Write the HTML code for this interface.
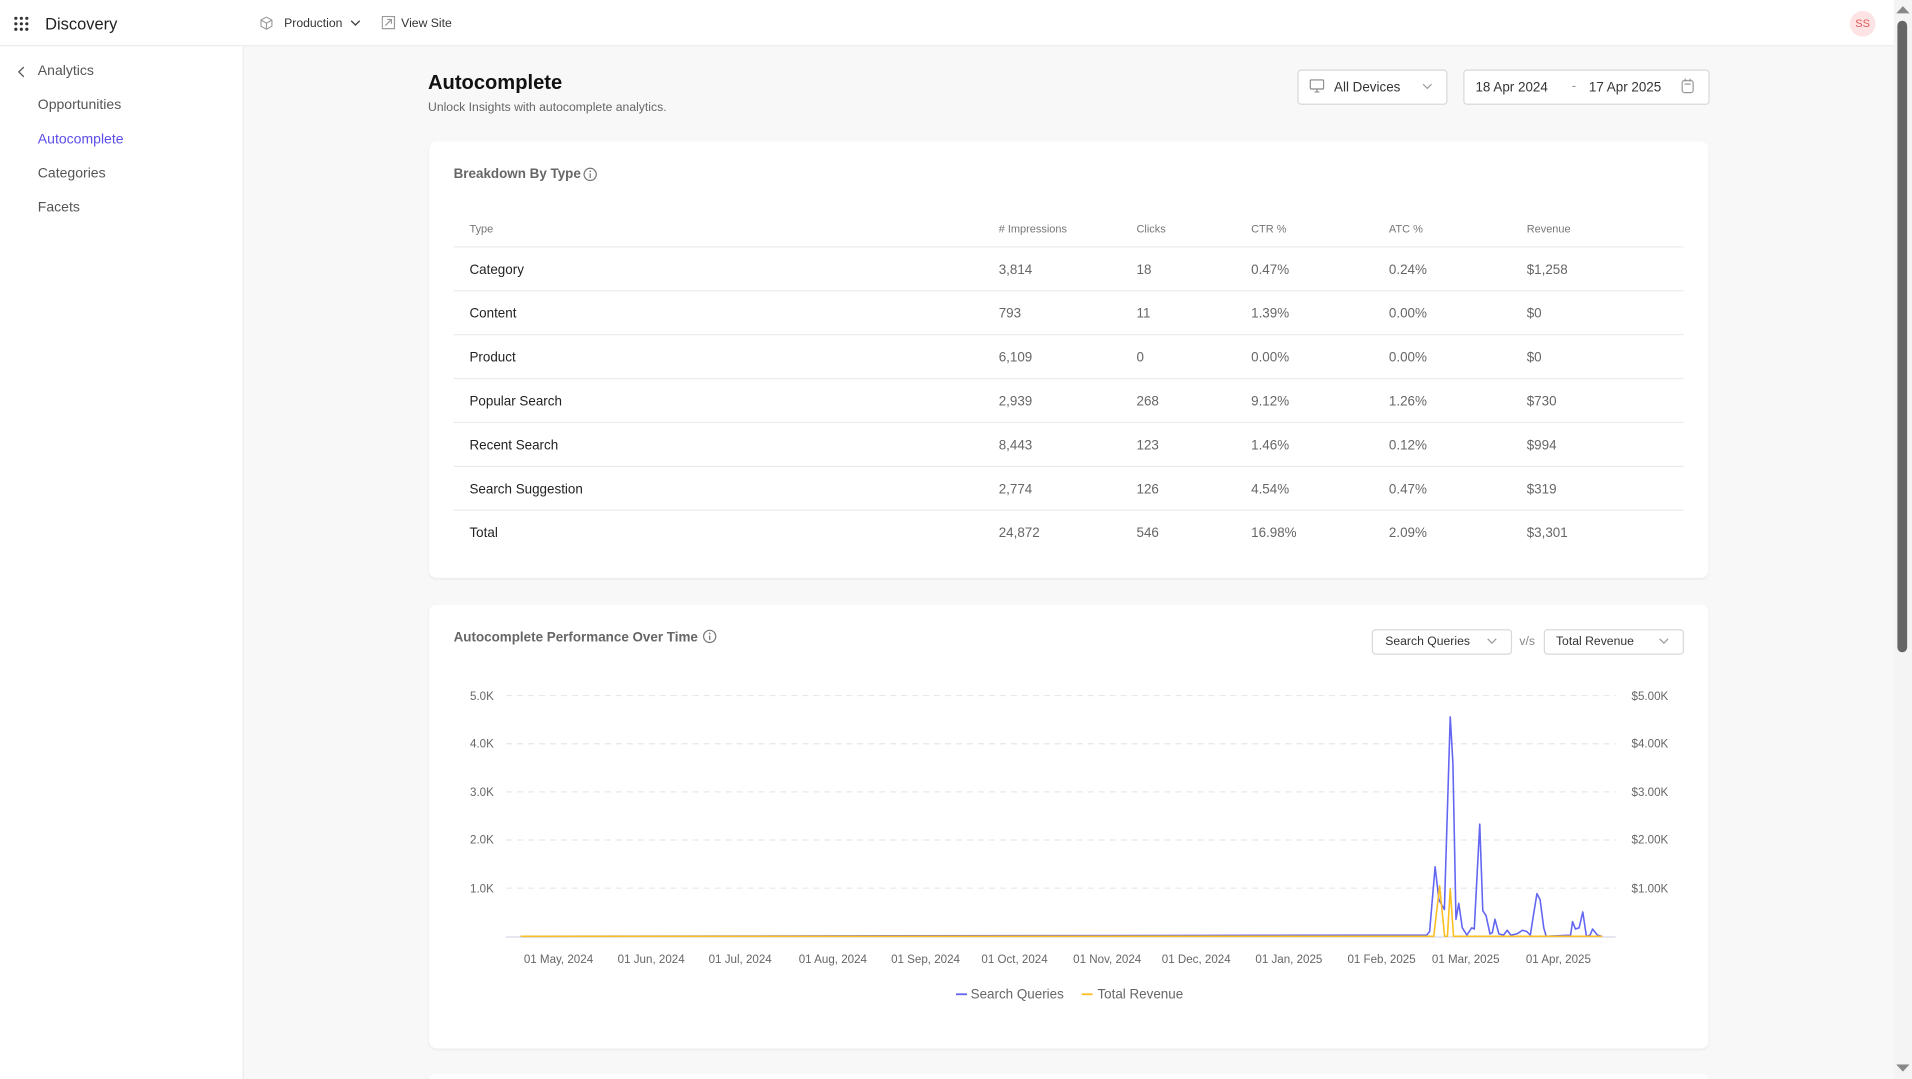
<!DOCTYPE html>
<html><head><meta charset="utf-8"><style>
html,body{margin:0;padding:0;width:1912px;height:1079px;overflow:hidden;background:#f8f8f8;font-family:"Liberation Sans",sans-serif;}
#w{position:absolute;left:0;top:0;width:1568px;height:885px;overflow:hidden;transform:scale(1.2194,1.2192);transform-origin:0 0;background:#f8f8f8;}
.a{position:absolute;white-space:nowrap;}
.side{position:absolute;left:0;top:0;width:199px;height:885px;background:#fff;border-right:1px solid #ececec;}
.top{position:absolute;left:0;top:0;width:1553px;height:37px;background:#fff;border-bottom:1px solid #ececec;}
.card{position:absolute;background:#fff;border-radius:6px;box-shadow:0 1px 2px rgba(0,0,0,.06);}
.nav{position:absolute;left:31px;font-size:11.5px;color:#555;transform:translateY(-45%);}
.box{position:absolute;border:1px solid #d9d9d9;border-radius:3px;background:#fff;}
.th{position:absolute;font-size:9px;color:#777;transform:translateY(-45%);}
.td{position:absolute;font-size:11px;color:#666;transform:translateY(-45%);}
.tl{color:#222;}
.hr{position:absolute;left:372px;width:1009px;height:1px;background:#ececec;}
</style></head><body><div id="w">
<div class="side"></div>
<div class="top"></div>
<svg class="a" style="left:11px;top:13px" width="13" height="13"><g fill="#333"><circle cx="2" cy="2" r="1.3"/><circle cx="6.5" cy="2" r="1.3"/><circle cx="11" cy="2" r="1.3"/><circle cx="2" cy="6.5" r="1.3"/><circle cx="6.5" cy="6.5" r="1.3"/><circle cx="11" cy="6.5" r="1.3"/><circle cx="2" cy="11" r="1.3"/><circle cx="6.5" cy="11" r="1.3"/><circle cx="11" cy="11" r="1.3"/></g></svg>
<div class="a" style="left:37px;top:12px;font-size:13.5px;color:#222;">Discovery</div>
<svg class="a" style="left:213px;top:13px" width="11" height="12"><path d="M5.5 1 L10 3.5 V8.5 L5.5 11 L1 8.5 V3.5Z M1 3.5 L5.5 6 L10 3.5 M5.5 6V11" fill="none" stroke="#999" stroke-width=".9"/></svg>
<div class="a" style="left:233px;top:14px;font-size:10px;color:#333;">Production</div>
<svg class="a" style="left:287px;top:16px" width="9" height="6"><path d="M1 1L4.5 4.5L8 1" fill="none" stroke="#444" stroke-width="1.1"/></svg>
<svg class="a" style="left:313px;top:13px" width="12" height="12"><rect x=".5" y=".5" width="10" height="10" fill="none" stroke="#999"/><path d="M3 8L8 3M4.5 3H8V6.5" fill="none" stroke="#999"/></svg>
<div class="a" style="left:329px;top:14px;font-size:10px;color:#333;">View Site</div>
<div class="a" style="left:1517px;top:9px;width:21px;height:21px;border-radius:50%;background:#fde3e3;color:#e45a5a;font-size:9px;text-align:center;line-height:21px;">SS</div>
<div class="a" style="left:1553px;top:0;width:15px;height:885px;background:#f4f4f4;"></div>
<div class="a" style="left:1556px;top:17px;width:8px;height:518px;border-radius:4px;background:#666;"></div>
<svg class="a" style="left:1555px;top:5px" width="11" height="7"><path d="M0 6L5.5 0L11 6Z" fill="#888"/></svg>
<svg class="a" style="left:1555px;top:873px" width="11" height="7"><path d="M0 0L5.5 6L11 0Z" fill="#888"/></svg>
<svg class="a" style="left:14px;top:54px" width="7" height="10"><path d="M5.5 1L1.5 5L5.5 9" fill="none" stroke="#555" stroke-width="1.1"/></svg>
<div class="nav" style="top:58px;">Analytics</div>
<div class="nav" style="top:86px;">Opportunities</div>
<div class="nav" style="top:114px;color:#5b4de8;">Autocomplete</div>
<div class="nav" style="top:142px;">Categories</div>
<div class="nav" style="top:170px;">Facets</div>
<div class="a" style="left:351px;top:59px;font-size:16.5px;font-weight:bold;color:#111;">Autocomplete</div>
<div class="a" style="left:351px;top:83px;font-size:10px;color:#666;">Unlock Insights with autocomplete analytics.</div>
<div class="box" style="left:1064px;top:57px;width:121px;height:27px;"></div>
<svg class="a" style="left:1074px;top:65px" width="12" height="11"><rect x=".5" y=".5" width="11" height="7.5" rx="1" fill="none" stroke="#888"/><path d="M4 10.5H8M6 8V10.5" stroke="#888"/></svg>
<div class="a" style="left:1094px;top:66px;font-size:11px;color:#333;">All Devices</div>
<svg class="a" style="left:1166px;top:68px" width="9" height="6"><path d="M1 1L4.5 4.5L8 1" fill="none" stroke="#999"/></svg>
<div class="box" style="left:1200px;top:57px;width:200px;height:27px;"></div>
<div class="a" style="left:1210px;top:66px;font-size:11px;color:#333;">18 Apr 2024</div>
<div class="a" style="left:1289px;top:65px;font-size:11px;color:#999;">-</div>
<div class="a" style="left:1303px;top:66px;font-size:11px;color:#333;">17 Apr 2025</div>
<svg class="a" style="left:1379px;top:64px" width="11" height="13"><rect x=".5" y="2" width="9" height="10" rx="2" fill="none" stroke="#999"/><path d="M3 .5V3M7 .5V3M2.5 5H7.5" stroke="#999"/></svg>
<div class="card" style="left:352px;top:116px;width:1049px;height:358px;"></div>
<div class="a" style="left:372px;top:137px;font-size:11px;font-weight:bold;color:#666;">Breakdown By Type</div>
<svg class="a" style="left:478px;top:137px" width="12" height="12"><circle cx="6" cy="6" r="5" fill="none" stroke="#777"/><path d="M6 5.2V9" stroke="#777"/><circle cx="6" cy="3.5" r=".7" fill="#777"/></svg>
<div class="th" style="left:385px;top:187px;">Type</div>
<div class="th" style="left:819px;top:187px;"># Impressions</div>
<div class="th" style="left:932px;top:187px;">Clicks</div>
<div class="th" style="left:1026px;top:187px;">CTR %</div>
<div class="th" style="left:1139px;top:187px;">ATC %</div>
<div class="th" style="left:1252px;top:187px;">Revenue</div>
<div class="hr" style="top:202px;"></div>
<div class="td tl" style="left:385px;top:221px;">Category</div><div class="td" style="left:819px;top:221px;">3,814</div><div class="td" style="left:932px;top:221px;">18</div><div class="td" style="left:1026px;top:221px;">0.47%</div><div class="td" style="left:1139px;top:221px;">0.24%</div><div class="td" style="left:1252px;top:221px;">$1,258</div>
<div class="hr" style="top:238px;"></div>
<div class="td tl" style="left:385px;top:257px;">Content</div><div class="td" style="left:819px;top:257px;">793</div><div class="td" style="left:932px;top:257px;">11</div><div class="td" style="left:1026px;top:257px;">1.39%</div><div class="td" style="left:1139px;top:257px;">0.00%</div><div class="td" style="left:1252px;top:257px;">$0</div>
<div class="hr" style="top:274px;"></div>
<div class="td tl" style="left:385px;top:293px;">Product</div><div class="td" style="left:819px;top:293px;">6,109</div><div class="td" style="left:932px;top:293px;">0</div><div class="td" style="left:1026px;top:293px;">0.00%</div><div class="td" style="left:1139px;top:293px;">0.00%</div><div class="td" style="left:1252px;top:293px;">$0</div>
<div class="hr" style="top:310px;"></div>
<div class="td tl" style="left:385px;top:329px;">Popular Search</div><div class="td" style="left:819px;top:329px;">2,939</div><div class="td" style="left:932px;top:329px;">268</div><div class="td" style="left:1026px;top:329px;">9.12%</div><div class="td" style="left:1139px;top:329px;">1.26%</div><div class="td" style="left:1252px;top:329px;">$730</div>
<div class="hr" style="top:346px;"></div>
<div class="td tl" style="left:385px;top:365px;">Recent Search</div><div class="td" style="left:819px;top:365px;">8,443</div><div class="td" style="left:932px;top:365px;">123</div><div class="td" style="left:1026px;top:365px;">1.46%</div><div class="td" style="left:1139px;top:365px;">0.12%</div><div class="td" style="left:1252px;top:365px;">$994</div>
<div class="hr" style="top:382px;"></div>
<div class="td tl" style="left:385px;top:401px;">Search Suggestion</div><div class="td" style="left:819px;top:401px;">2,774</div><div class="td" style="left:932px;top:401px;">126</div><div class="td" style="left:1026px;top:401px;">4.54%</div><div class="td" style="left:1139px;top:401px;">0.47%</div><div class="td" style="left:1252px;top:401px;">$319</div>
<div class="hr" style="top:418px;"></div>
<div class="td tl" style="left:385px;top:437px;">Total</div><div class="td" style="left:819px;top:437px;">24,872</div><div class="td" style="left:932px;top:437px;">546</div><div class="td" style="left:1026px;top:437px;">16.98%</div><div class="td" style="left:1139px;top:437px;">2.09%</div><div class="td" style="left:1252px;top:437px;">$3,301</div>
<div class="card" style="left:352px;top:496px;width:1049px;height:364px;"></div>
<div class="card" style="left:352px;top:881px;width:1049px;height:4px;border-radius:6px 6px 0 0;"></div>
<div class="a" style="left:372px;top:517px;font-size:11px;font-weight:bold;color:#666;">Autocomplete Performance Over Time</div>
<svg class="a" style="left:576px;top:516px" width="12" height="12"><circle cx="6" cy="6" r="5" fill="none" stroke="#777"/><path d="M6 5.2V9" stroke="#777"/><circle cx="6" cy="3.5" r=".7" fill="#777"/></svg>
<div class="box" style="left:1125px;top:516px;width:113px;height:19px;"></div>
<div class="a" style="left:1136px;top:521px;font-size:10px;color:#333;">Search Queries</div>
<svg class="a" style="left:1219px;top:523px" width="9" height="6"><path d="M1 1L4.5 4.5L8 1" fill="none" stroke="#999"/></svg>
<div class="a" style="left:1246px;top:521px;font-size:10px;color:#888;">v/s</div>
<div class="box" style="left:1266px;top:516px;width:113px;height:19px;"></div>
<div class="a" style="left:1276px;top:521px;font-size:10px;color:#333;">Total Revenue</div>
<svg class="a" style="left:1360px;top:523px" width="9" height="6"><path d="M1 1L4.5 4.5L8 1" fill="none" stroke="#999"/></svg>
<svg class="a" style="left:0;top:0" width="1568" height="885">
<g stroke="#e8e8e8" stroke-dasharray="5,4" stroke-width="1">
<line x1="415" y1="570.5" x2="1325" y2="570.5"/><line x1="415" y1="610" x2="1325" y2="610"/><line x1="415" y1="649.5" x2="1325" y2="649.5"/><line x1="415" y1="689" x2="1325" y2="689"/><line x1="415" y1="728.5" x2="1325" y2="728.5"/>
</g>
<line x1="415" y1="768.5" x2="1325" y2="768.5" stroke="#d8d8e8"/>
<g font-family="Liberation Sans, sans-serif" font-size="9.5" fill="#666">
<g text-anchor="end"><text x="405" y="574">5.0K</text><text x="405" y="613">4.0K</text><text x="405" y="653">3.0K</text><text x="405" y="692">2.0K</text><text x="405" y="732">1.0K</text></g>
<text x="1338" y="574">$5.00K</text><text x="1338" y="613">$4.00K</text><text x="1338" y="653">$3.00K</text><text x="1338" y="692">$2.00K</text><text x="1338" y="732">$1.00K</text>
<g text-anchor="middle"><text x="458" y="790">01 May, 2024</text><text x="534" y="790">01 Jun, 2024</text><text x="607" y="790">01 Jul, 2024</text><text x="683" y="790">01 Aug, 2024</text><text x="759" y="790">01 Sep, 2024</text><text x="832" y="790">01 Oct, 2024</text><text x="908" y="790">01 Nov, 2024</text><text x="981" y="790">01 Dec, 2024</text><text x="1057" y="790">01 Jan, 2025</text><text x="1133" y="790">01 Feb, 2025</text><text x="1202" y="790">01 Mar, 2025</text><text x="1278" y="790">01 Apr, 2025</text></g>
</g>
<polyline fill="none" stroke="#6366f1" stroke-width="1.3" stroke-linejoin="round" points="427,768 1170,767 1172.4,764 1176.9,711 1180,738 1184.5,746 1189.3,588 1191.5,626 1194,754 1196.3,741 1199.2,761 1203,767 1206.9,761 1209,762 1213.5,676 1216,747 1218.7,751 1221.9,766 1223.8,765 1226,754 1229.2,766 1233,767 1236,763 1239,767 1244,766 1248.5,763 1252,764 1255,767 1257,754 1260.4,733 1263,738 1266,761 1268,768 1288,767 1289.6,756 1292,762 1295,761 1298,748 1301,768 1304,767 1306,762 1310,767 1314,768"/>
<polyline fill="none" stroke="#fbbf24" stroke-width="1.3" stroke-linejoin="round" points="427,768 1175.8,768 1180.6,726.6 1184.7,768 1187,768 1189.3,729 1192,768 1314,768"/>
<line x1="784" y1="815.5" x2="793" y2="815.5" stroke="#6366f1" stroke-width="1.5"/>
<line x1="887" y1="815.5" x2="896" y2="815.5" stroke="#fbbf24" stroke-width="1.5"/>
<g font-family="Liberation Sans, sans-serif" font-size="11" fill="#666"><text x="796" y="819">Search Queries</text><text x="900" y="819">Total Revenue</text></g>
</svg>
</div></body></html>
